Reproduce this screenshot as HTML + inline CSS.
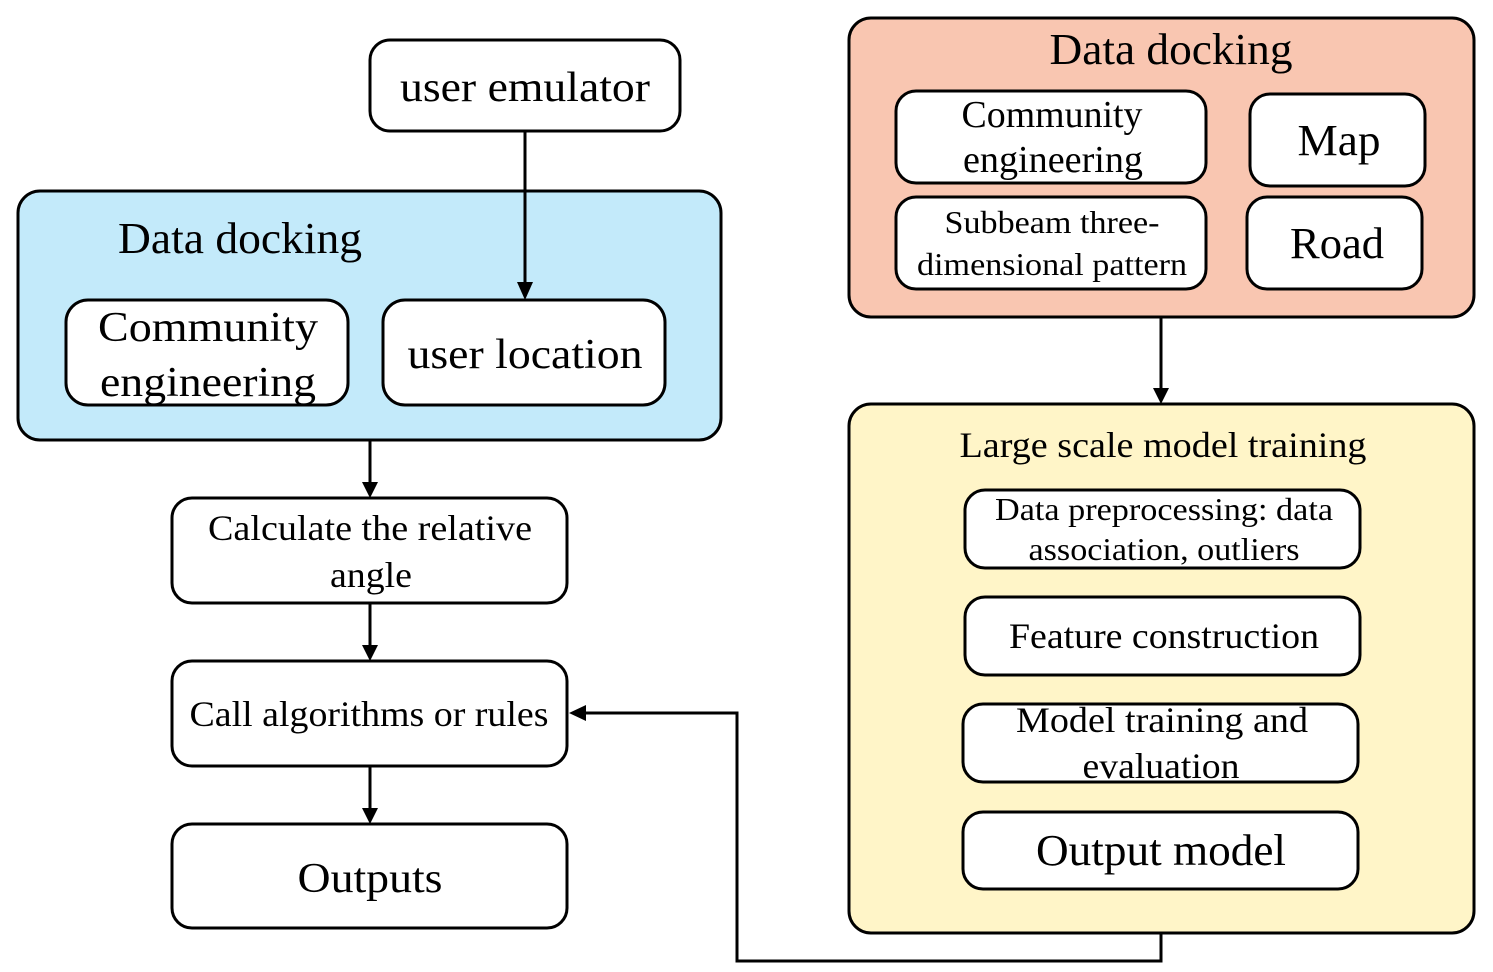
<!DOCTYPE html>
<html><head><meta charset="utf-8"><style>body{margin:0;background:#fff}</style></head><body>
<svg width="1493" height="967" xmlns="http://www.w3.org/2000/svg" font-family="Liberation Serif, serif" text-anchor="middle" fill="#000">
<g stroke="#000" stroke-width="3">
<rect x="370" y="40" width="310" height="91" rx="20" fill="#fff"/>
<rect x="18" y="191" width="703" height="249" rx="22" fill="#C3EAFA"/>
<rect x="66" y="300" width="282" height="105" rx="22" fill="#fff"/>
<rect x="383" y="300" width="282" height="105" rx="22" fill="#fff"/>
<rect x="172" y="498" width="395" height="105" rx="20" fill="#fff"/>
<rect x="172" y="661" width="395" height="105" rx="20" fill="#fff"/>
<rect x="172" y="824" width="395" height="104" rx="20" fill="#fff"/>
<rect x="849" y="18" width="625" height="299" rx="22" fill="#F9C6B1"/>
<rect x="896" y="91" width="310" height="92" rx="20" fill="#fff"/>
<rect x="1250" y="94" width="175" height="92" rx="20" fill="#fff"/>
<rect x="896" y="197" width="310" height="92" rx="20" fill="#fff"/>
<rect x="1247" y="197" width="175" height="92" rx="20" fill="#fff"/>
<rect x="849" y="404" width="625" height="529" rx="22" fill="#FFF5C8"/>
<rect x="965" y="490" width="395" height="78" rx="20" fill="#fff"/>
<rect x="965" y="597" width="395" height="78" rx="20" fill="#fff"/>
<rect x="963" y="704" width="395" height="78" rx="20" fill="#fff"/>
<rect x="963" y="812" width="395" height="77" rx="20" fill="#fff"/>
<g fill="none">
<line x1="525" y1="131" x2="525" y2="284"/>
<line x1="370" y1="440" x2="370" y2="484"/>
<line x1="370" y1="603" x2="370" y2="647"/>
<line x1="370" y1="766" x2="370" y2="810"/>
<line x1="1161" y1="317" x2="1161" y2="390"/>
<polyline points="1161,933 1161,961 737,961 737,713 584,713"/>
</g>
</g>
<g>
<path d="M517,282 L533,282 L525,300 Z"/>
<path d="M362,482 L378,482 L370,498 Z"/>
<path d="M362,645 L378,645 L370,661 Z"/>
<path d="M362,808 L378,808 L370,824 Z"/>
<path d="M1153,388 L1169,388 L1161,404 Z"/>
<path d="M586,705 L586,721 L569,713 Z"/>
</g>
<g lengthAdjust="spacingAndGlyphs">
<text x="525" y="101" font-size="42" textLength="250" lengthAdjust="spacingAndGlyphs">user emulator</text>
<text x="240" y="253" font-size="44" textLength="244" lengthAdjust="spacingAndGlyphs">Data docking</text>
<text x="208" y="341" font-size="42" textLength="220" lengthAdjust="spacingAndGlyphs">Community</text>
<text x="208" y="396" font-size="42" textLength="216" lengthAdjust="spacingAndGlyphs">engineering</text>
<text x="525" y="368" font-size="42" textLength="235" lengthAdjust="spacingAndGlyphs">user location</text>
<text x="370" y="540" font-size="36" textLength="324" lengthAdjust="spacingAndGlyphs">Calculate the relative</text>
<text x="371" y="587" font-size="36" textLength="82" lengthAdjust="spacingAndGlyphs">angle</text>
<text x="369" y="726" font-size="36" textLength="359" lengthAdjust="spacingAndGlyphs">Call algorithms or rules</text>
<text x="370" y="892" font-size="42" textLength="145" lengthAdjust="spacingAndGlyphs">Outputs</text>
<text x="1171" y="64" font-size="44" textLength="243" lengthAdjust="spacingAndGlyphs">Data docking</text>
<text x="1052" y="127" font-size="38" textLength="181" lengthAdjust="spacingAndGlyphs">Community</text>
<text x="1053" y="172" font-size="38" textLength="180" lengthAdjust="spacingAndGlyphs">engineering</text>
<text x="1339" y="155" font-size="44" textLength="83" lengthAdjust="spacingAndGlyphs">Map</text>
<text x="1052" y="233" font-size="32" textLength="215" lengthAdjust="spacingAndGlyphs">Subbeam three-</text>
<text x="1052" y="275" font-size="32" textLength="270" lengthAdjust="spacingAndGlyphs">dimensional pattern</text>
<text x="1337" y="258" font-size="44" textLength="94" lengthAdjust="spacingAndGlyphs">Road</text>
<text x="1163" y="457" font-size="36" textLength="407" lengthAdjust="spacingAndGlyphs">Large scale model training</text>
<text x="1164" y="520" font-size="32" textLength="338" lengthAdjust="spacingAndGlyphs">Data preprocessing: data</text>
<text x="1164" y="560" font-size="32" textLength="271" lengthAdjust="spacingAndGlyphs">association, outliers</text>
<text x="1164" y="648" font-size="36" textLength="310" lengthAdjust="spacingAndGlyphs">Feature construction</text>
<text x="1162" y="732" font-size="36" textLength="292" lengthAdjust="spacingAndGlyphs">Model training and</text>
<text x="1161" y="778" font-size="36" textLength="157" lengthAdjust="spacingAndGlyphs">evaluation</text>
<text x="1161" y="865" font-size="44" textLength="250" lengthAdjust="spacingAndGlyphs">Output model</text>
</g>
</svg>
</body></html>
